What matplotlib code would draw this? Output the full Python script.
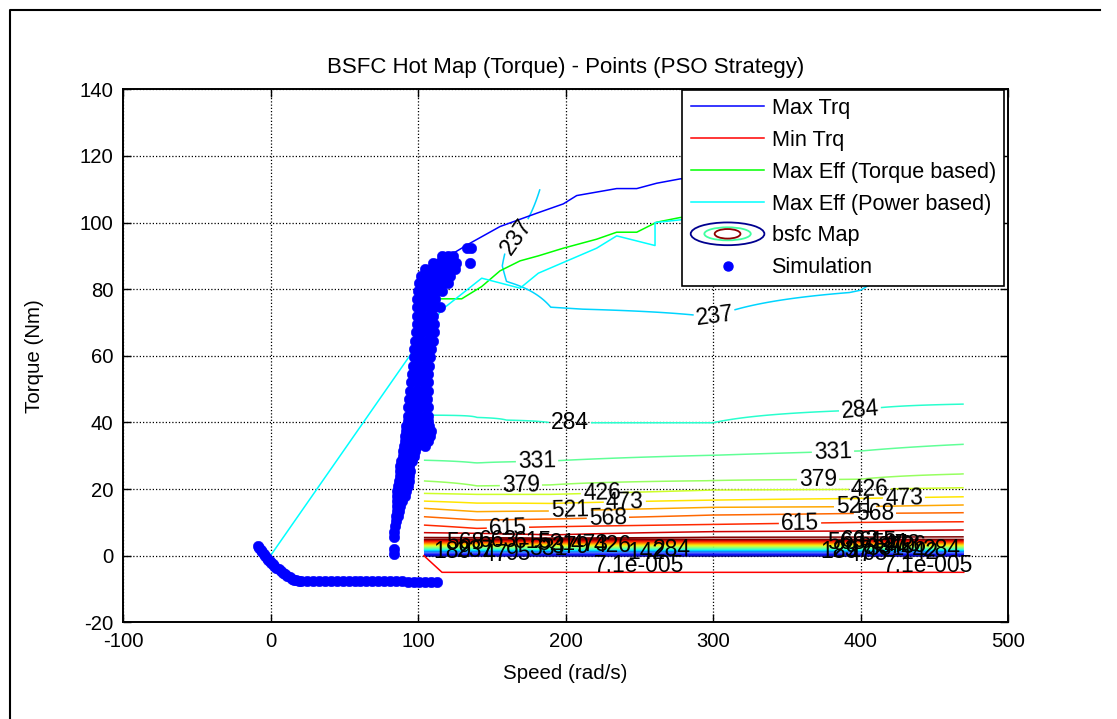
import numpy as np
import matplotlib
matplotlib.use('Agg')
import matplotlib.pyplot as plt
from matplotlib.patches import Ellipse, Patch
from matplotlib.legend_handler import HandlerBase
from matplotlib.lines import Line2D

plt.rcParams['font.family'] = ['Liberation Sans', 'DejaVu Sans']
plt.rcParams['axes.unicode_minus'] = False

# ---------------- data ----------------
title = 'BSFC Hot Map (Torque) - Points (PSO Strategy)'
x_label = 'Speed (rad/s)'
y_label = 'Torque (Nm)'
x_ticks = [-100, 0, 100, 200, 300, 400, 500]
y_ticks = [-20, 0, 20, 40, 60, 80, 100, 120, 140]

maxtrq_speed = [104.7, 121.7, 135.3, 155.6, 180.5, 198.5, 207.6, 234.7, 248.3, 261.8, 277.6, 314, 366, 418, 470]
maxtrq_torque = [82, 90.2, 93.8, 98.8, 102.8, 105.6, 108.1, 110.2, 110.2, 111.8, 113.1, 115, 117, 118, 119]

mintrq_speed = [104, 116.3, 470]
mintrq_torque = [0, -5, -5]

efft_speed = [104.7, 113.8, 114.9, 129.6, 143.2, 155.6, 169.2, 181.6, 198.5, 221.1, 234.7, 248.3, 261.8, 277.6, 314, 366, 418, 470]
efft_torque = [80, 78.3, 77.1, 77.1, 80.8, 85.5, 88.5, 90, 92.3, 95, 97.1, 97.1, 100.1, 101.5, 103, 104, 105, 106]

effp_speed = [0, 116.1, 143.2, 169.2, 181.6, 221.1, 234.7, 260.7, 260.7, 277.6, 314, 366, 418, 470]
effp_torque = [0, 73.8, 83.3, 80.3, 84.8, 92.3, 96, 93.1, 100, 100.8, 101, 102, 103, 104]

# bsfc map: speed columns, iso-bsfc torque heights
bsfc_speed = [104, 140, 160, 190, 300, 400, 470]
iso_bsfc = [663, 615, 568, 521, 473, 426, 379, 331, 284]
iso_torque = [
    [6.9, 6.7, 6.5, 6.2, 7.2, 7.4, 7.7],
    [9.2, 8.2, 8.4, 8.7, 9.4, 10.0, 10.2],
    [11.7, 10.7, 10.8, 11.0, 12.2, 12.7, 12.9],
    [14.2, 13.2, 13.3, 13.4, 14.5, 14.7, 15.2],
    [16.4, 15.8, 15.8, 15.7, 16.7, 17.2, 17.7],
    [18.7, 18.4, 18.4, 18.4, 19.7, 19.9, 20.4],
    [22.4, 20.9, 21.0, 21.2, 22.5, 22.9, 24.5],
    [28.7, 27.9, 28.2, 28.5, 30.2, 31.5, 33.5],
    [42.2, 41.5, 40.7, 39.9, 39.9, 43.7, 45.5],
]
# low-torque band: bsfc 0 at zero torque, peak near 5 Nm
band_torque = [-5, 0, 5.0]
band_bsfc = [0, 0, 725]
# upper part of each column (torque, bsfc)
upper_torque = [[110], [110], [82, 87, 93, 110], [74, 90, 110], [71, 110], [79, 110], [88, 110]]
upper_bsfc = [[258], [255], [237, 232, 237, 248], [237, 228, 233], [237, 215], [237, 222], [237, 228]]

bsfc_levels = np.linspace(7.1e-5, 710, 16)

# simulation operating points
sim_speed = [
    -8.5, -7.5, -6.5, -5.5, -4.5, -3.5, -2.5, -1.5, -0.5, 0.5, 1.5, 2.5, 4, 5.5, 7, 8.5, 10, 11.5, 13, 14.5, 16, 17.5, 19,
    21, 25, 29, 33, 37, 41, 45, 49, 53, 57, 61, 65, 69, 73, 77, 81, 85, 89, 93, 97, 101, 105, 109, 113,
    83.5, 83.5, 84, 84, 84.5, 85, 85.2, 86.5, 85.5, 87, 85.5, 87.5, 86, 89,
    86, 88.5, 91, 86, 90, 92, 86.5, 90, 93.5, 87, 91, 94, 87.5, 91, 94, 88, 92, 94.5, 88, 92, 94,
    88.5, 92.5, 96, 89.5, 93.5, 97, 90, 94, 98, 90.5, 95, 99, 104.5,
    91, 95, 99, 103, 107, 91.5, 96, 100, 104, 108, 92, 96, 100, 104, 108.5, 92, 96, 100, 104, 107.5,
    93, 97, 101, 105, 107, 93, 97, 101, 105, 107, 93.5, 97.5, 101.5, 105.5, 107,
    94, 98, 102, 106, 94.5, 98.5, 102.5, 106.5, 95.5, 99.5, 103.5, 107, 96, 100, 104, 107,
    96.5, 100.5, 104.5, 107.5, 97, 101, 105, 108, 97.5, 101.5, 105.5, 109, 98, 102, 106, 110,
    98.5, 102.5, 106.5, 111, 99, 103, 107, 111, 99, 103, 107, 110,
    99.5, 103.5, 107.5, 111, 115, 99.5, 103.5, 107.5, 111.5, 100, 104, 108, 112, 116,
    100.5, 104.5, 108.5, 112.5, 116.5, 120, 102, 106, 110, 114, 118, 122,
    105, 109, 113, 117, 121, 125, 110, 114, 118, 122, 126, 135, 116, 120, 124, 133, 136,
]
sim_torque = [
    3.0, 2.4, 1.7, 1.1, 0.5, -0.1, -0.7, -1.2, -1.7, -2.2, -2.6, -3.0, -3.6, -4.1, -4.6, -5.1, -5.6, -6.1, -6.5, -6.9, -7.2, -7.4, -7.5,
    -7.6, -7.6, -7.6, -7.6, -7.6, -7.6, -7.6, -7.6, -7.6, -7.6, -7.6, -7.6, -7.6, -7.6, -7.6, -7.6, -7.7, -7.7, -7.8, -7.8, -7.9, -7.9, -8.0, -8.0,
    0.5, 2.0, 5.5, 7.0, 9.0, 10.5, 12.0, 12.0, 13.5, 13.5, 15.0, 15.0, 16.5, 16.5,
    18, 18, 18, 19.5, 19.5, 19.5, 21, 21, 21, 22.5, 22.5, 22.5, 24, 24, 24, 25.5, 25.5, 25.5, 27, 27, 27,
    28.5, 28.5, 28.5, 30, 30, 30, 31.5, 31.5, 31.5, 33, 33, 33, 33,
    34.5, 34.5, 34.5, 34.5, 34.5, 36, 36, 36, 36, 36, 37.5, 37.5, 37.5, 37.5, 37.5, 39, 39, 39, 39, 39,
    40.5, 40.5, 40.5, 40.5, 40.5, 42, 42, 42, 42, 42, 44.5, 44.5, 44.5, 44.5, 44.5,
    47, 47, 47, 47, 49.5, 49.5, 49.5, 49.5, 52, 52, 52, 52, 54.5, 54.5, 54.5, 54.5,
    57, 57, 57, 57, 59.5, 59.5, 59.5, 59.5, 62, 62, 62, 62, 64.5, 64.5, 64.5, 64.5,
    67, 67, 67, 67, 69.5, 69.5, 69.5, 69.5, 72, 72, 72, 72,
    74.5, 74.5, 74.5, 74.5, 74.5, 77, 77, 77, 77, 79.5, 79.5, 79.5, 79.5, 79.5,
    82, 82, 82, 82, 82, 82, 84, 84, 84, 84, 84, 84,
    86, 86, 86, 86, 86, 86, 88, 88, 88, 88, 88, 88, 90, 90, 90, 92.5, 92.5,
]

legend_labels = ['Max Trq', 'Min Trq', 'Max Eff (Torque based)', 'Max Eff (Power based)', 'bsfc Map', 'Simulation']

# contour label positions (speed, torque) per level index
label_upper = {
    5: [(163.7, 96.8), (301.4, 71.3)],
    6: [(203, 39.1), (399.7, 43)],
    7: [(180.7, 28.3), (381.4, 30.1)],
    8: [(169.8, 20.2), (371.2, 22)],
    9: [(224.7, 17.8), (406.4, 18.4)],
    10: [(240.3, 14.5), (429.5, 15.4)],
    11: [(203, 13.0), (396.3, 13.3)],
    12: [(228.8, 10.3), (409.8, 10.6)],
    13: [(161, 7.9), (359, 8.8)],
}
label_band = {
    1: [(152, 0.3), (400, 0.3)],
    2: [(168, 0.6), (410, 0.6)],
    3: [(255, 1.0), (440, 1.0)],
    4: [(123, 1.3), (386, 1.3)],
    5: [(139, 1.6), (394, 1.6)],
    6: [(272, 2.0), (455, 2.0)],
    7: [(188, 2.3), (417, 2.3)],
    8: [(203, 2.6), (424, 2.6)],
    9: [(232, 2.9), (432, 2.9)],
    10: [(216, 3.3), (428, 3.3)],
    11: [(194, 3.6), (420, 3.6)],
    12: [(132, 3.9), (390, 3.9)],
    13: [(178, 4.2), (412, 4.2)],
    14: [(154, 4.6), (400, 4.6)],
}
# the near-zero level label sits just under the band
label_zero = [(250, -3.0), (446, -3.0)]

# ---------------- figure ----------------
W, H = 1117, 719
fig = plt.figure(figsize=(W / 100, H / 100), dpi=100)
ax = fig.add_axes([123 / W, 1 - 622.3 / H, 885 / W, 533 / H])

# build bsfc table on torque grid
torque_grid = np.arange(-5, 110.0001, 0.05)
bsfc = np.zeros((len(torque_grid), len(bsfc_speed)))
for j in range(len(bsfc_speed)):
    tt = list(band_torque) + [row[j] for row in iso_torque] + upper_torque[j]
    zz = list(band_bsfc) + list(iso_bsfc) + upper_bsfc[j]
    bsfc[:, j] = np.interp(torque_grid, tt, zz)

ax.plot(maxtrq_speed, maxtrq_torque, color=(0, 0, 1), lw=1.1, zorder=2.2)
ax.plot(mintrq_speed, mintrq_torque, color=(1, 0, 0), lw=1.1, zorder=2.2)
ax.plot(efft_speed, efft_torque, color=(0, 1, 0), lw=1.1, zorder=2.2)
ax.plot(effp_speed, effp_torque, color=(0, 1, 1), lw=1.1, zorder=2.2)

cs = ax.contour(bsfc_speed, torque_grid, bsfc, levels=bsfc_levels, cmap='jet',
                vmin=0, vmax=710, linewidths=1.1, zorder=2)


def fmt(v):
    return '7.1e-005' if v < 1 else '%d' % round(v)


ax.set_xlim(-100, 500)
ax.set_ylim(-20, 140)

# set up label state once, then place each label on its own level
cs.clabel(manual=[], fmt=fmt, colors='k', fontsize=16.5, inline=True)
n_lev = len(cs.levels)


def place_labels(idx, positions, inline):
    cs.labelIndiceList = [idx]
    cs.labelLevelList = [cs.levels[idx]] * n_lev
    cs.labelCValueList = [0] * n_lev
    for (x, y) in positions:
        cs.add_label_near(x, y, inline=inline, inline_spacing=2)


for idx, pos in label_upper.items():
    place_labels(idx, pos, True)
for idx, pos in label_band.items():
    place_labels(idx, pos, False)
for (x, y) in label_zero:
    px, py = ax.transData.transform((x, y))
    cs.add_label(px, py, 0, cs.levels[0], 0)

ax.plot(sim_speed, sim_torque, ls='none', marker='o', ms=7.6, mfc=(0, 0, 1),
        mec=(0, 0, 1), mew=0.3, zorder=3)

ax.set_xticks(x_ticks)
ax.set_yticks(y_ticks)
ax.grid(True, linestyle=(0, (1, 1.6)), color='k', linewidth=0.9)
ax.set_axisbelow(True)
ax.tick_params(direction='in', length=6, width=1.0, top=True, right=True,
               labelsize=14.6, pad=7)
for sp in ax.spines.values():
    sp.set_linewidth(1.4)

ax.set_title(title, fontsize=16, pad=12)
ax.set_xlabel(x_label, fontsize=14.8)
ax.set_ylabel(y_label, fontsize=14.8)
ax.xaxis.set_label_coords(0.5, -0.078)
ax.yaxis.set_label_coords(-0.089, 0.5)


class HandlerBsfc(HandlerBase):
    def create_artists(self, legend, orig_handle, xdescent, ydescent, width, height, fontsize, trans):
        cx = -xdescent + width / 2.0
        cy = -ydescent + height / 2.0
        specs = [(width, fontsize * 1.05, '#00008f'),
                 (width * 0.63, fontsize * 0.6, '#40ffa0'),
                 (width * 0.35, fontsize * 0.44, '#8f0000')]
        arts = []
        for w, h, c in specs:
            arts.append(Ellipse((cx, cy), w, h, fill=False, edgecolor=c, linewidth=1.3, transform=trans))
        return arts


h_max = Line2D([], [], color=(0, 0, 1), lw=1.1)
h_min = Line2D([], [], color=(1, 0, 0), lw=1.1)
h_eft = Line2D([], [], color=(0, 1, 0), lw=1.1)
h_efp = Line2D([], [], color=(0, 1, 1), lw=1.1)
h_map = Patch()
h_sim = Line2D([], [], ls='none', marker='o', ms=6.5, mfc=(0, 0, 1), mec=(0, 0, 1))
leg = ax.legend([h_max, h_min, h_eft, h_efp, h_map, h_sim], legend_labels,
                loc='upper right', bbox_to_anchor=(0.9955, 0.999), borderaxespad=0,
                handlelength=3.4, handletextpad=0.33, borderpad=0.38, labelspacing=0.5,
                fancybox=False, framealpha=1, edgecolor='k', fontsize=15.6, numpoints=1,
                handler_map={h_map: HandlerBsfc()})
leg.get_frame().set_linewidth(1.2)
leg.set_zorder(10)

# outer frame of the figure window
fig.add_artist(Line2D([10 / W, 10 / W, 1100 / W], [0, 1 - 10 / H, 1 - 10 / H],
                      transform=fig.transFigure, color='k', lw=1.5))

fig.savefig('out.png', dpi=100)
